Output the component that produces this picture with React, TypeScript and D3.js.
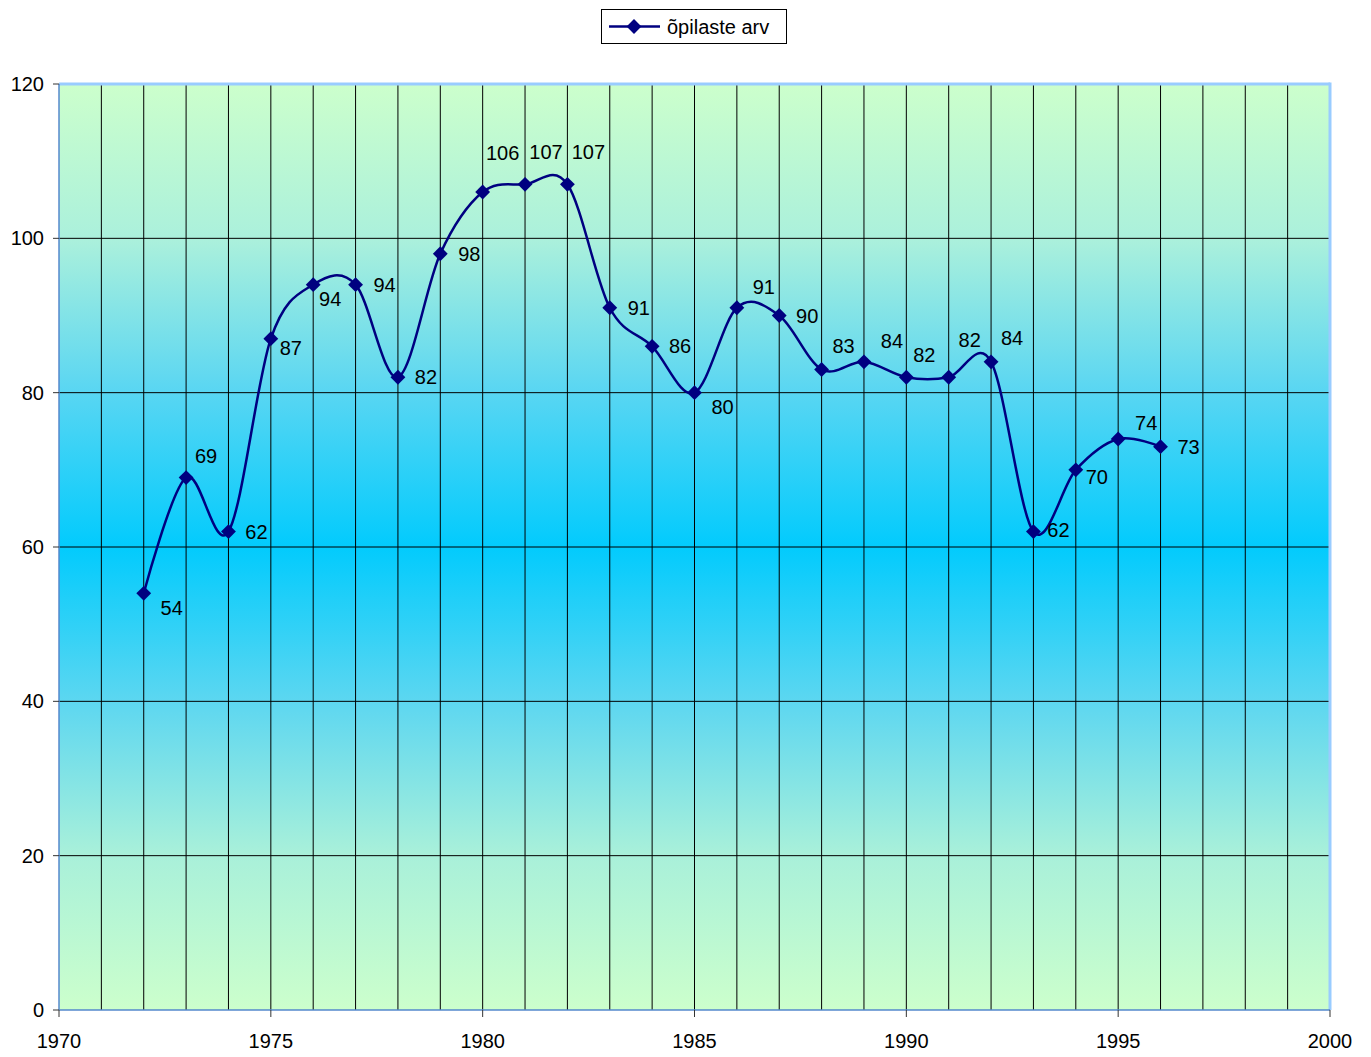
import React, { useRef, useEffect } from "react";
import * as d3 from "d3";

const years = [1972, 1973, 1974, 1975, 1976, 1977, 1978, 1979, 1980, 1981, 1982, 1983, 1984,
  1985, 1986, 1987, 1988, 1989, 1990, 1991, 1992, 1993, 1994, 1995, 1996];
const students = [54, 69, 62, 87, 94, 94, 82, 98, 106, 107, 107, 91, 86,
  80, 91, 90, 83, 84, 82, 82, 84, 62, 70, 74, 73];
// where each value label sits relative to its marker
const labelOffsets: [number, number][] = [
  [28, 15], [20, -22], [28, 0], [20, 9], [17, 14], [29, 0], [28, 0], [29, 0],
  [20, -39], [21, -32], [21, -32], [29, 0], [28, 0], [28, 14], [27, -21], [28, 0],
  [22, -24], [28, -21], [18, -22], [21, -37], [21, -24], [25, -2], [21, 7], [28, -16], [28, 0],
];
const yTicks = [0, 20, 40, 60, 80, 100, 120];
const xTicks = [1970, 1975, 1980, 1985, 1990, 1995, 2000];
const seriesName = "õpilaste arv";
const bgStops: [string, string][] = [
  ["0%", "#ccffcc"], ["17%", "#aaf0dc"], ["33%", "#5ad6f2"], ["50%", "#02cbfd"],
  ["67%", "#5ed7f0"], ["83%", "#a8f0da"], ["100%", "#ccffcc"],
];

const W = 1371, H = 1057;
const m = { left: 59, right: 41, top: 84, bottom: 47 };
const FONT = "'Liberation Sans', Arial, sans-serif";
const NAVY = "#000080";

function App() {
  const svgRef = useRef<SVGSVGElement>(null);

  useEffect(() => {
    document.body.style.margin = "0";
    const svg = d3.select(svgRef.current);
    svg.selectAll("*").remove();

    const x = d3.scaleLinear().domain([1970, 2000]).range([m.left, W - m.right]);
    const y = d3.scaleLinear().domain([0, 120]).range([H - m.bottom, m.top]);

    const grad = svg.append("defs").append("linearGradient")
      .attr("id", "bg").attr("x1", 0).attr("y1", 0).attr("x2", 0).attr("y2", 1);
    grad.selectAll("stop")
      .data(bgStops)
      .join("stop")
      .attr("offset", d => d[0])
      .attr("stop-color", d => d[1]);

    // plot background
    svg.append("rect")
      .attr("x", x(1970)).attr("y", y(120))
      .attr("width", x(2000) - x(1970)).attr("height", y(0) - y(120))
      .attr("fill", "url(#bg)");

    // grid
    const g = svg.append("g");
    g.selectAll(".vgrid")
      .data(d3.range(1971, 2000))
      .join("line")
      .attr("class", "vgrid")
      .attr("x1", d => x(d)).attr("x2", d => x(d))
      .attr("y1", y(120)).attr("y2", y(0))
      .attr("stroke", "#000").attr("stroke-width", 1);
    g.selectAll(".hgrid")
      .data(yTicks.filter(t => t > 0 && t < 120))
      .join("line")
      .attr("class", "hgrid")
      .attr("x1", x(1970)).attr("x2", x(2000))
      .attr("y1", d => y(d)).attr("y2", d => y(d))
      .attr("stroke", "#000").attr("stroke-width", 1);

    // borders
    svg.append("line").attr("x1", x(1970)).attr("x2", x(2000)).attr("y1", y(120)).attr("y2", y(120))
      .attr("stroke", "#99ccff").attr("stroke-width", 3);
    svg.append("line").attr("x1", x(2000)).attr("x2", x(2000)).attr("y1", y(120) - 1.5).attr("y2", y(0))
      .attr("stroke", "#99ccff").attr("stroke-width", 3);
    svg.append("line").attr("x1", x(1970)).attr("x2", x(1970)).attr("y1", y(120)).attr("y2", y(0))
      .attr("stroke", "#5588cc").attr("stroke-width", 1.5);
    svg.append("line").attr("x1", x(1970)).attr("x2", x(2000)).attr("y1", y(0)).attr("y2", y(0))
      .attr("stroke", "#5588cc").attr("stroke-width", 1.5);

    // y axis ticks + labels
    svg.selectAll(".ytick")
      .data(yTicks)
      .join("line")
      .attr("class", "ytick")
      .attr("x1", x(1970) - 6).attr("x2", x(1970))
      .attr("y1", d => y(d)).attr("y2", d => y(d))
      .attr("stroke", "#333");
    svg.selectAll(".ylab")
      .data(yTicks)
      .join("text")
      .attr("class", "ylab")
      .attr("x", x(1970) - 15).attr("y", d => y(d) + 7)
      .attr("text-anchor", "end")
      .style("font", `20px ${FONT}`)
      .text(d => d);

    // x axis ticks + labels
    svg.selectAll(".xtick")
      .data(xTicks)
      .join("line")
      .attr("class", "xtick")
      .attr("x1", d => x(d)).attr("x2", d => x(d))
      .attr("y1", y(0)).attr("y2", y(0) + 7)
      .attr("stroke", "#333");
    svg.selectAll(".xlab")
      .data(xTicks)
      .join("text")
      .attr("class", "xlab")
      .attr("x", d => x(d)).attr("y", y(0) + 38)
      .attr("text-anchor", "middle")
      .style("font", `20px ${FONT}`)
      .text(d => d);

    // series line
    const pts = years.map((yr, i) => [yr, students[i]] as [number, number]);
    const line = d3.line<[number, number]>()
      .x(d => x(d[0])).y(d => y(d[1]))
      .curve(d3.curveCardinal.tension(0));
    svg.append("path")
      .datum(pts)
      .attr("d", line)
      .attr("fill", "none")
      .attr("stroke", NAVY)
      .attr("stroke-width", 2.5);

    const diamond = d3.symbol().type(d3.symbolDiamond2).size(140);
    svg.selectAll(".mark")
      .data(pts)
      .join("path")
      .attr("class", "mark")
      .attr("d", diamond)
      .attr("transform", d => `translate(${x(d[0])},${y(d[1])})`)
      .attr("fill", NAVY);

    svg.selectAll(".vlab")
      .data(pts)
      .join("text")
      .attr("class", "vlab")
      .attr("x", (d, i) => x(d[0]) + labelOffsets[i][0])
      .attr("y", (d, i) => y(d[1]) + labelOffsets[i][1] + 7)
      .attr("text-anchor", "middle")
      .style("font", `20px ${FONT}`)
      .text(d => d[1]);

    // legend
    const lg = svg.append("g");
    lg.append("rect").attr("x", 601.5).attr("y", 9.5).attr("width", 185).attr("height", 34)
      .attr("fill", "#fff").attr("stroke", "#000");
    lg.append("line").attr("x1", 609).attr("x2", 660).attr("y1", 26.5).attr("y2", 26.5)
      .attr("stroke", NAVY).attr("stroke-width", 2.5);
    lg.append("path").attr("d", diamond).attr("transform", "translate(634,26.5)")
      .attr("fill", NAVY);
    lg.append("text").attr("x", 667).attr("y", 34)
      .style("font", `20px ${FONT}`).text(seriesName);
  }, []);

  return <svg ref={svgRef} width={W} height={H} style={{ display: "block" }} />;
}

export default App;
